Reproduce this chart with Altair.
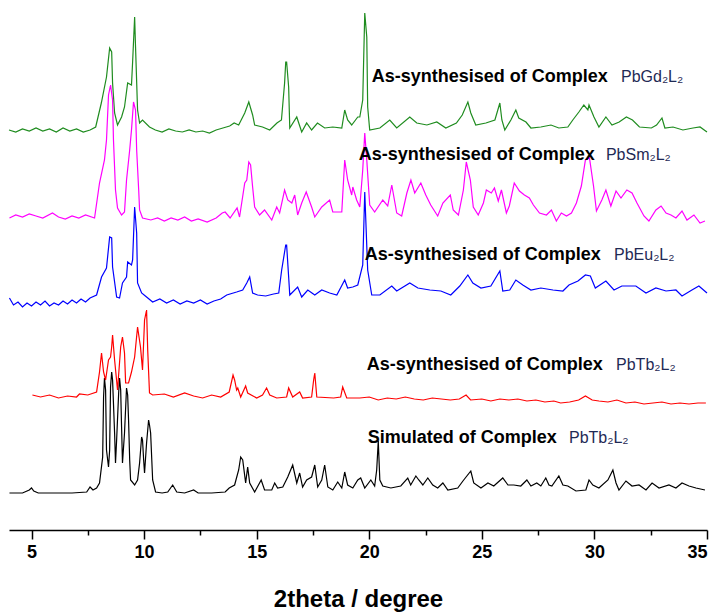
import altair as alt
import pandas as pd

# ---------------- data (2theta in degrees, stacked intensity in a.u.) ----------------
tt_gd = [4.0, 4.3, 4.6, 4.9, 5.2, 5.5, 5.8, 6.1, 6.4, 6.7, 7.0, 7.3, 7.6, 7.85, 8.1, 8.33, 8.47, 8.56, 8.6, 8.69,
         8.82, 9.0, 9.13, 9.27, 9.44, 9.49, 9.58, 9.62, 9.71, 9.8, 9.93, 10.24, 10.5, 10.8, 11.1, 11.4, 11.7, 12.0,
         12.3, 12.6, 12.9, 13.2, 13.5, 13.8, 14.0, 14.2, 14.47, 14.65, 14.82, 14.91, 15.26, 15.58, 15.9, 16.1,
         16.24, 16.29, 16.33, 16.42, 16.47, 16.78, 17.0, 17.22, 17.44, 17.7, 18.02, 18.38, 18.78, 18.91, 19.04,
         19.22, 19.49, 19.58, 19.71, 19.8, 19.89, 19.93, 20.02, 20.47, 20.91, 21.22, 21.8, 22.11, 22.56, 23.0,
         23.4, 23.87, 24.13, 24.38, 24.51, 24.73, 25.18, 25.58, 25.8, 25.89, 26.02, 26.29, 26.51, 26.64, 26.96,
         27.18, 27.62, 28.07, 28.42, 28.82, 29.04, 29.31, 29.53, 29.71, 29.76, 29.98, 30.2, 30.51, 30.78, 31.1,
         31.42, 31.69, 32.0, 32.53, 32.76, 33.0, 33.13, 33.49, 33.93, 34.38, 34.69, 35.0]
i_gd = [400, 398, 401, 399, 402, 399, 401, 398, 402, 399, 401, 398, 400, 403, 427, 453, 482, 478, 447, 417,
        405, 413, 423, 447, 445, 468, 513, 483, 420, 407, 410, 403, 400, 398, 401, 399, 398, 400,
        398, 399, 397, 400, 402, 404, 407, 405, 417, 428, 415, 405, 403, 400, 407, 410,
        447, 468, 468, 443, 402, 413, 398, 407, 400, 407, 402, 403, 402, 420, 410,
        405, 413, 413, 430, 517, 493, 423, 400, 402, 410, 402, 413, 407, 405, 408,
        402, 407, 415, 428, 417, 405, 407, 410, 427, 410, 400, 410, 420, 412, 408,
        402, 403, 405, 402, 403, 410, 418, 425, 420, 425, 413, 403, 413, 405, 408,
        413, 410, 403, 402, 405, 412, 402, 403, 400, 402, 403, 398]

tt_sm = [4.02, 4.3, 4.6, 4.9, 5.2, 5.5, 5.93, 6.2, 6.5, 6.8, 7.1, 7.4, 7.8, 8.02, 8.24, 8.33, 8.42, 8.51, 8.6,
         8.64, 8.73, 8.82, 9.0, 9.13, 9.22, 9.36, 9.44, 9.53, 9.62, 9.67, 9.76, 9.8, 9.93, 10.3, 10.6, 10.9,
         11.2, 11.5, 11.8, 12.1, 12.4, 12.8, 13.2, 13.47, 13.6, 13.82, 14.13, 14.24, 14.47, 14.56, 14.65, 14.73,
         14.82, 14.91, 15.13, 15.35, 15.67, 15.89, 16.02, 16.24, 16.38, 16.56, 16.69, 16.82, 17.0, 17.2, 17.44,
         17.58, 17.89, 18.24, 18.38, 18.78, 18.91, 19.04, 19.22, 19.27, 19.44, 19.58, 19.71, 19.8, 19.89, 20.02,
         20.24, 20.6, 20.82, 21.0, 21.22, 21.44, 21.67, 21.85, 22.02, 22.29, 22.51, 22.73, 23.04, 23.27, 23.6,
         23.73, 23.96, 24.18, 24.31, 24.49, 24.62, 24.84, 25.07, 25.2, 25.42, 25.56, 25.73, 25.87, 26.09, 26.22,
         26.44, 26.67, 26.89, 27.11, 27.29, 27.56, 27.87, 28.09, 28.31, 28.53, 28.76, 28.98, 29.2, 29.42, 29.6,
         29.78, 29.96, 30.09, 30.33, 30.51, 30.73, 30.96, 31.18, 31.44, 31.67, 31.89, 32.2, 32.42, 32.73, 32.96,
         33.18, 33.4, 33.62, 33.89, 34.11, 34.42, 34.69, 34.91]
i_sm = [312, 315, 313, 316, 314, 312, 317, 313, 311, 314, 312, 315, 312, 347, 370, 390, 435, 445, 430,
        390, 340, 322, 315, 318, 350, 380, 400, 428, 420, 380, 340, 320, 312, 310, 312, 309,
        312, 310, 313, 309, 311, 308, 312, 317, 318, 312, 322, 313, 347, 350, 368, 365,
        343, 323, 315, 320, 310, 323, 317, 340, 330, 327, 335, 315, 327, 338, 323,
        313, 323, 330, 318, 318, 370, 350, 335, 343, 330, 323, 360, 397, 370, 325,
        318, 330, 324, 345, 317, 314, 337, 350, 337, 347, 335, 325, 314, 327, 335,
        320, 315, 340, 368, 350, 323, 315, 327, 340, 337, 342, 329, 340, 317, 324,
        347, 339, 335, 332, 325, 317, 315, 320, 309, 317, 314, 317, 327, 344, 370,
        372, 344, 319, 330, 340, 324, 339, 332, 340, 337, 327, 314, 309, 320, 324,
        317, 315, 312, 319, 310, 315, 307, 309]

tt_eu = [4.02, 4.2, 4.4, 4.6, 4.8, 5.0, 5.2, 5.4, 5.6, 5.8, 6.0, 6.2, 6.4, 6.6, 6.8, 7.0, 7.2, 7.4, 7.6, 7.89,
         8.11, 8.33, 8.47, 8.56, 8.6, 8.78, 8.91, 9.04, 9.22, 9.27, 9.44, 9.49, 9.58, 9.67, 9.71, 9.89, 10.11,
         10.38, 10.7, 11.0, 11.3, 11.6, 11.9, 12.2, 12.5, 12.8, 13.1, 13.4, 13.67, 14.11, 14.38, 14.56, 14.69,
         14.82, 15.04, 15.4, 15.75, 15.98, 16.11, 16.29, 16.33, 16.42, 16.47, 16.82, 17.0, 17.27, 17.58, 17.89,
         18.24, 18.56, 18.91, 19.04, 19.27, 19.49, 19.71, 19.8, 19.93, 20.11, 20.47, 21.0, 21.22, 21.8, 22.16,
         22.69, 23.18, 23.62, 24.02, 24.38, 24.6, 24.96, 25.4, 25.8, 25.93, 26.24, 26.51, 26.82, 27.18, 27.62,
         28.16, 28.6, 28.87, 29.27, 29.6, 29.82, 30.04, 30.51, 30.87, 31.22, 31.6, 31.84, 32.29, 32.73, 33.18,
         33.62, 33.89, 34.33, 34.64, 35.0]
i_eu = [232, 225, 228, 223, 227, 224, 228, 225, 229, 224, 227, 225, 229, 226, 230, 227, 231, 228, 232, 235,
        253, 262, 293, 292, 263, 233, 232, 247, 253, 268, 265, 270, 323, 297, 247, 237, 233,
        228, 231, 227, 230, 226, 229, 227, 230, 226, 229, 231, 235, 238, 240, 247, 253,
        237, 235, 234, 236, 237, 260, 285, 285, 253, 235, 243, 233, 240, 235, 240,
        237, 235, 250, 242, 243, 245, 265, 338, 260, 235, 235, 244, 239, 247, 242,
        240, 239, 235, 244, 255, 247, 242, 244, 259, 239, 240, 250, 245, 240, 242,
        240, 239, 245, 249, 255, 254, 242, 249, 240, 244, 244, 244, 237, 242, 239,
        240, 234, 240, 244, 237]

tt_tb = [5.04, 5.4, 5.8, 6.2, 6.6, 7.0, 7.13, 7.5, 7.89, 8.02, 8.11, 8.2, 8.29, 8.42, 8.51, 8.56, 8.6, 8.69,
         8.82, 8.96, 9.04, 9.13, 9.18, 9.31, 9.44, 9.58, 9.71, 9.84, 9.93, 10.02, 10.11, 10.16, 10.24, 10.38,
         10.9, 11.3, 11.8, 12.2, 12.6, 13.0, 13.4, 13.78, 13.95, 14.02, 14.11, 14.16, 14.29, 14.51, 14.6, 15.0,
         15.26, 15.44, 15.58, 15.89, 16.33, 16.42, 16.6, 16.91, 17.04, 17.44, 17.53, 17.58, 17.67, 18.42, 18.73,
         18.82, 19.0, 19.58, 20.0, 20.4, 20.8, 21.2, 21.6, 22.0, 22.4, 22.8, 23.2, 23.6, 24.0, 24.3, 24.5, 25.0,
         25.4, 25.8, 26.2, 26.6, 27.0, 27.4, 27.8, 28.2, 28.5, 28.9, 29.3, 29.6, 29.9, 30.2, 30.6, 31.0, 31.4,
         31.8, 32.2, 32.6, 33.0, 33.4, 33.8, 34.2, 34.6, 34.95]
i_tb = [135, 133, 135, 132, 134, 133, 136, 135, 138, 158, 177, 158, 150, 170, 173, 183, 195, 170,
        140, 183, 193, 177, 147, 147, 158, 173, 203, 183, 160, 210, 220, 180, 137, 135,
        136, 133, 137, 134, 132, 135, 133, 138, 155, 150, 140, 142, 133, 144, 137, 132,
        135, 142, 135, 132, 133, 142, 133, 138, 132, 133, 150, 157, 133, 132, 133,
        143, 132, 132, 133, 130, 132, 131, 133, 131, 130, 132, 131, 130, 131, 135, 130, 131,
        129, 131, 130, 131, 129, 130, 128, 129, 127, 128, 130, 134, 130, 129, 128, 130, 127,
        128, 126, 127, 128, 126, 127, 126, 127, 127]

tt_sim = [4.02, 4.6, 4.9, 5.0, 5.1, 5.3, 6.0, 6.8, 7.45, 7.6, 7.73, 7.89, 8.02, 8.16, 8.2, 8.24, 8.29, 8.33,
          8.42, 8.47, 8.51, 8.56, 8.6, 8.69, 8.73, 8.78, 8.87, 8.91, 8.96, 9.0, 9.04, 9.13, 9.22, 9.27, 9.31,
          9.36, 9.4, 9.58, 9.71, 9.8, 9.89, 9.93, 9.98, 10.02, 10.11, 10.2, 10.24, 10.29, 10.38, 10.51, 10.8,
          11.05, 11.27, 11.45, 11.8, 12.2, 12.4, 13.0, 13.6, 13.78, 14.02, 14.2, 14.29, 14.38, 14.51, 14.6,
          14.69, 14.91, 15.2, 15.35, 15.67, 15.8, 15.93, 16.16, 16.38, 16.6, 16.78, 16.91, 17.04, 17.22, 17.44,
          17.58, 17.71, 17.89, 18.02, 18.16, 18.38, 18.6, 18.78, 18.91, 19.04, 19.27, 19.49, 19.62, 19.8, 20.07,
          20.24, 20.33, 20.4, 20.47, 20.6, 20.96, 21.4, 21.71, 21.84, 22.07, 22.2, 22.38, 22.6, 22.82, 23.04,
          23.27, 23.49, 23.93, 24.16, 24.51, 24.64, 24.96, 25.27, 25.53, 25.93, 26.16, 26.42, 26.73, 27.0,
          27.18, 27.44, 27.62, 27.84, 27.98, 28.11, 28.42, 28.6, 28.82, 29.18, 29.62, 29.76, 29.93, 30.2, 30.6,
          30.82, 30.96, 31.09, 31.4, 31.67, 31.98, 32.29, 32.56, 32.87, 33.31, 33.62, 33.89, 34.2, 34.51, 34.91]
i_sim = [37, 37, 40, 42, 39, 37, 37, 37, 38, 43, 40, 42, 47, 73, 133, 152, 140, 80,
         63, 80, 143, 158, 150, 97, 67, 90, 137, 152, 140, 103, 67, 97, 142, 135, 110,
         70, 50, 45, 50, 67, 93, 90, 70, 57, 87, 110, 105, 97, 50, 38, 37,
         38, 45, 38, 37, 40, 37, 37, 38, 42, 45, 60, 73, 70, 47, 63,
         47, 38, 50, 40, 40, 47, 42, 43, 53, 65, 47, 57, 43, 50, 53,
         65, 43, 50, 65, 43, 40, 48, 42, 58, 45, 42, 50, 52, 42, 50,
         44, 60, 89, 50, 44, 42, 44, 52, 45, 54, 50, 45, 52, 45, 42,
         47, 40, 42, 49, 59, 47, 42, 47, 44, 52, 45, 45, 44, 50,
         44, 47, 44, 52, 45, 44, 54, 45, 44, 39, 40, 50, 45, 42, 50,
         60, 47, 40, 49, 44, 45, 40, 47, 42, 45, 42, 47, 44, 42, 40]

# labels: bold prefix, compound, their 2theta positions and heights
label_prefix = ["As-synthesised of Complex", "As-synthesised of Complex", "As-synthesised of Complex",
                "As-synthesised of Complex", "Simulated of Complex"]
label_compound = ["PbGd\u2082L\u2082", "PbSm\u2082L\u2082", "PbEu\u2082L\u2082", "PbTb\u2082L\u2082", "PbTb\u2082L\u2082"]
label_tt = [20.11, 19.53, 19.8, 19.89, 19.93]
label_tt2 = [31.18, 30.51, 30.87, 30.96, 28.87]
label_y = [453, 375, 275, 165, 92]

series_tt = [tt_gd, tt_sm, tt_eu, tt_sim, tt_tb]
series_i = [i_gd, i_sm, i_eu, i_sim, i_tb]
series_color = ["#1f8c1f", "#ff00ff", "#0000ff", "#000000", "#ff0000"]

x_ticks = [5, 7.5, 10, 12.5, 15, 17.5, 20, 22.5, 25, 27.5, 30, 32.5, 35]

xscale = alt.Scale(domain=[4, 35], nice=False, zero=False)
yscale = alt.Scale(domain=[0, 530], nice=False, zero=False)

layers = []
first = True
for tts, ints, col in zip(series_tt, series_i, series_color):
    df = pd.DataFrame({"tt": tts, "I": ints})
    if first:
        xenc = alt.X("tt:Q", scale=xscale, title="2theta / degree",
                     axis=alt.Axis(values=x_ticks,
                                   labelExpr="datum.value % 5 == 0 ? datum.label : ''",
                                   tickSize={"condition": {"test": "datum.value % 5 == 0", "value": 9}, "value": 5},
                                   grid=False))
        first = False
    else:
        xenc = alt.X("tt:Q", scale=xscale)
    layers.append(
        alt.Chart(df).mark_line(color=col, strokeWidth=1.2, interpolate="linear").encode(
            x=xenc, y=alt.Y("I:Q", scale=yscale, axis=None)
        )
    )

lab = pd.DataFrame({"prefix": label_prefix, "compound": label_compound,
                    "tt": label_tt, "tt2": label_tt2, "y": label_y})
text1 = alt.Chart(lab).mark_text(align="left", baseline="middle", font="Liberation Sans",
                                 fontWeight="bold", fontSize=18, color="black").encode(
    x=alt.X("tt:Q", scale=xscale), y=alt.Y("y:Q", scale=yscale), text="prefix:N")
text2 = alt.Chart(lab).mark_text(align="left", baseline="middle", font="Liberation Sans",
                                 fontSize=16, color="#1f2a55").encode(
    x=alt.X("tt2:Q", scale=xscale), y=alt.Y("y:Q", scale=yscale), text="compound:N")

chart = alt.layer(*layers, text1, text2).properties(
    width=698, height=530,
    autosize=alt.AutoSizeParams(type="none"),
    padding={"left": 9, "top": 0, "right": 18, "bottom": 85},
).configure_view(stroke=None).configure_axis(
    domainColor="black", domainWidth=1.5, tickColor="black", tickWidth=1.5,
    labelFont="Liberation Sans", labelFontWeight="bold", labelFontSize=18, labelColor="black",
    labelPadding=4,
    titleFont="Liberation Sans", titleFontWeight="bold", titleFontSize=24, titleColor="black",
    titlePadding=26,
)

chart.save("out.html", embed_options={"renderer": "svg", "actions": False})
